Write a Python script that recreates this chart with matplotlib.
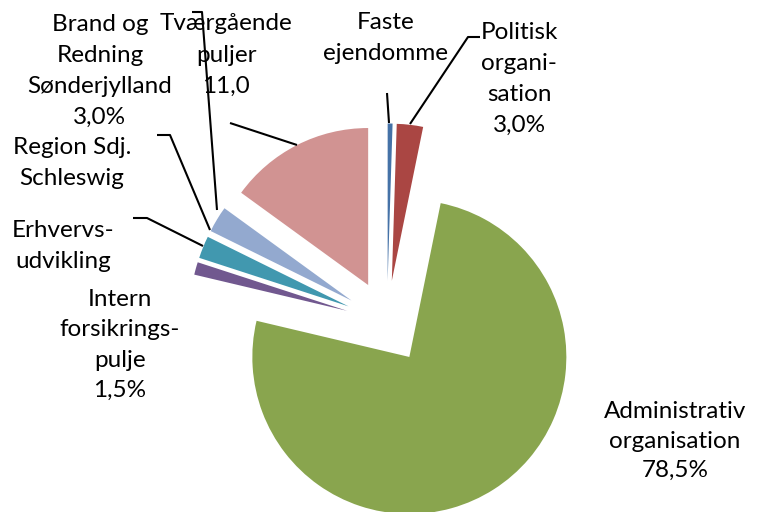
"""Exploded pie of budget shares (Excel-style layout)."""

import matplotlib

matplotlib.use("Agg")
import matplotlib.pyplot as plt

# slice order: clockwise from 12 o'clock
names = [
    "Faste ejendomme",
    "Politisk organisation",
    "Administrativ organisation",
    "Intern forsikringspulje",
    "Erhvervsudvikling",
    "Region Sdj. Schleswig",
    "Brand og Redning Sønderjylland",
    "Tværgående puljer",
]
# shares as drawn; Region shows no visible wedge
shares = [0.5, 2.7, 75.5, 1.3, 2.3, 0.0, 2.7, 15.0]
colors = ["#4572A7", "#AA4643", "#89A54E", "#71588F", "#4198AF", "#DB843D", "#93A9CF", "#D19392"]

# label texts as printed on the chart
label_texts = [
    "Faste\nejendomme",
    "Politisk\norgani-\nsation\n3,0%",
    "Administrativ\norganisation\n78,5%",
    "Intern\nforsikrings-\npulje\n1,5%",
    "Erhvervs-\nudvikling",
    "Region Sdj.\nSchleswig",
    "Brand og\nRedning\nSønderjylland\n3,0%",
    "Tværgående\npuljer\n11,0",
]

# layout in pixel coordinates (y grows downward)
W, H = 763, 512
CENTER = (387, 322)
RADIUS = 157
EXPLODE = 41.5
label_pos = [
    (386, 38),
    (519, 79),
    (675, 441),
    (120, 345),
    (63, 246),
    (72, 163),
    (100, 71),
    (226, 55),
]
line_gap = [1.6, 1.6, 1.5, 1.55, 1.6, 1.6, 1.6, 1.6]
leaders = [
    [(387, 93), (389, 123)],
    [(480, 37), (468, 37), (410, 124)],
    None,
    None,
    [(133, 218), (147, 218), (203, 246)],
    [(157, 135), (170, 135), (210, 230)],
    [(192, 12), (202, 12), (217, 210)],
    [(230, 123), (297, 145)],
]

fig = plt.figure(figsize=(W / 100, H / 100), dpi=100)
ax = fig.add_axes([0, 0, 1, 1])

# y axis is inverted, so counterclockwise in data reads clockwise on screen
ax.pie(
    shares,
    colors=colors,
    startangle=-90,
    counterclock=True,
    radius=RADIUS,
    center=CENTER,
    explode=[EXPLODE] * len(shares),
    wedgeprops={"linewidth": 0},
    frame=True,
)

for path in leaders:
    if path is None:
        continue
    xs, ys = zip(*path)
    ax.plot(xs, ys, color="black", lw=1.5, solid_capstyle="butt")

for text, (x, y), gap in zip(label_texts, label_pos, line_gap):
    ax.text(
        x, y, text, ha="center", va="center", fontsize=17.5,
        family=["Lato", "DejaVu Sans"], linespacing=gap, color="black",
    )

ax.set_xlim(0, W)
ax.set_ylim(H, 0)
ax.set_aspect("equal")
ax.axis("off")

fig.savefig("out.png", dpi=100)
